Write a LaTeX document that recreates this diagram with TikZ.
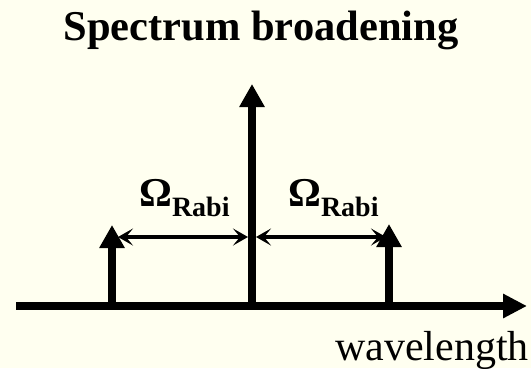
\documentclass[tikz,border=0pt]{standalone}
\usepackage{fontspec}
\setmainfont{Liberation Serif}
\usetikzlibrary{arrows.meta}
\definecolor{bgcream}{RGB}{255,255,240}
\begin{document}
\begin{tikzpicture}[x=1pt,y=-1pt,
  axisline/.style={line width=8pt,-{Triangle[length=24pt,width=23pt]}},
  peakline/.style={line width=8pt,-{Triangle[length=23pt,width=24pt]}},
  spanline/.style={line width=4pt,{Stealth[length=15pt,width=17pt,inset=7pt]}-{Stealth[length=15pt,width=17pt,inset=7pt]}},
  lbl/.style={inner sep=0pt}]
\fill[bgcream] (0,0) rectangle (531,368);
\useasboundingbox (0,0) rectangle (531,368);
% coordinates
\coordinate (axL) at (16,306);
\coordinate (axR) at (527,306);
\coordinate (cB) at (252,306);
\coordinate (cT) at (252,84);
\coordinate (lB) at (112,306);
\coordinate (lT) at (112,225);
\coordinate (rB) at (389,306);
\coordinate (rT) at (389,224);
\coordinate (sL) at (118,237);
\coordinate (sCl) at (248,237);
\coordinate (sCr) at (256,237);
\coordinate (sR) at (386,237);
% axes and peaks
\draw[axisline] (axL) -- (axR);
\draw[peakline] (cB) -- (cT);
\draw[peakline] (lB) -- (lT);
\draw[peakline] (rB) -- (rT);
% spans
\draw[spanline] (sL) -- (sCl);
\draw[spanline] (sCr) -- (sR);
% texts
\node[lbl,anchor=base] (title) at (261,40) {\fontsize{42.5}{42.5}\selectfont\bfseries Spectrum broadening};
\node[lbl,anchor=base west] (omL) at (139,206) {\fontsize{41}{41}\selectfont\bfseries Ω\raisebox{-10.5pt}{\fontsize{28}{28}\selectfont Rabi}};
\node[lbl,anchor=base west] (omR) at (288,206) {\fontsize{41}{41}\selectfont\bfseries Ω\raisebox{-10.5pt}{\fontsize{28}{28}\selectfont Rabi}};
\node[lbl,anchor=base east] (wl) at (529,360) {\fontsize{42}{42}\selectfont wavelength};
\end{tikzpicture}
\end{document}
